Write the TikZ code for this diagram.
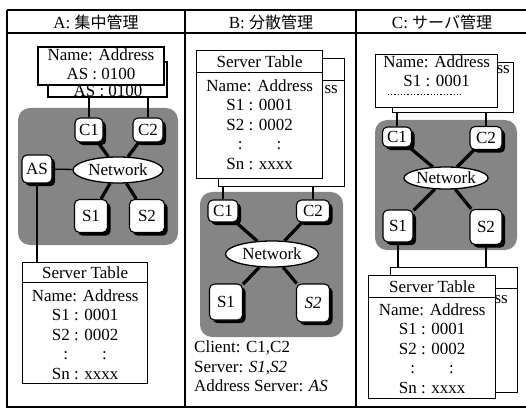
\documentclass[tikz,border=0pt]{standalone}
\usepackage{fontspec}
\setmainfont{Liberation Serif}
\newfontfamily\jfont{Noto Sans CJK JP}
\usetikzlibrary{shapes.geometric,shadows}
\pgfdeclarelayer{bg}
\pgfdeclarelayer{edges}
\pgfsetlayers{bg,edges,main}
\tikzset{
  frameline/.style={line width=1.6},
  card/.style={draw, fill=white, line width=1.3, inner sep=0pt},
  host/.style={draw, fill=white, rounded corners=5, line width=1.1, inner sep=0pt,
    drop shadow={shadow xshift=3.2pt, shadow yshift=-3.2pt, fill=black, opacity=1}},
  netw/.style={ellipse, draw, fill=white, line width=1.3, inner sep=0pt},
  cloud/.style={fill=black!48, rounded corners=12},
  link/.style={line width=3.2},
  wire/.style={line width=1.3},
  txt/.style={inner sep=0pt, align=center},
}
\begin{document}
\begin{tikzpicture}[x=1pt,y=-1pt,every node/.style={font=\fontsize{17}{19}\selectfont}]
\useasboundingbox (0,0) rectangle (526,411);
% frame
\draw[frameline] (7,10) -- (526,10);
\draw[frameline] (7,33) -- (526,33);
\draw[frameline] (526,407) -- (7,407) -- (7,10);
\draw[frameline] (185,10) -- (185,407);
\draw[frameline] (356,10) -- (356,407);
\node (titA) at (96,22) {A: {\jfont\fontsize{16}{16}\selectfont 集中管理}};
\node (titB) at (271,22) {B: {\jfont\fontsize{16}{16}\selectfont 分散管理}};
\node (titC) at (442,22) {C: {\jfont\fontsize{16}{16}\selectfont サーバ管理}};

% ---------------- A ----------------
\begin{pgfonlayer}{bg}
\fill[cloud] (18,108) rectangle (178,245);
\end{pgfonlayer}
\node[card, minimum width=119, minimum height=35] (cAb) at (107.5,79.5) {};
\begin{scope}
\clip (40,86) rectangle (170,97);
\node[txt] (cAbt) at (108,90.5) {AS : 0100};
\end{scope}
\node[card, minimum width=126, minimum height=38] (cAf) at (101,66) {};
\node[txt] (cAft) at (101,64) {Name: Address\\AS : 0100};

\node[host, minimum width=28, minimum height=24] (C1a) at (89,130) {C1};
\node[host, minimum width=30, minimum height=24] (C2a) at (148,130) {C2};
\node[host, minimum width=30, minimum height=28] (ASa) at (37,169) {AS};
\node[netw, minimum width=90, minimum height=26] (Neta) at (118,170) {Network};
\node[host, minimum width=33, minimum height=33] (S1a) at (91,216) {S1};
\node[host, minimum width=35, minimum height=33] (S2a) at (147,216) {S2};

\node[card, minimum width=125, minimum height=121, anchor=north west] (tA) at (22,262) {};
\node[card, minimum width=125, minimum height=20, anchor=north] (tAh) at (tA.north) {Server Table};
\node[txt, anchor=north, font=\fontsize{17}{19.5}\selectfont] (tAb) at ([yshift=-6pt]tAh.south)
  {Name: Address\\S1 : 0001\\S2 : 0002\\:\hspace{34pt}:\\Sn : xxxx};

\begin{pgfonlayer}{edges}
\draw[link] (Neta) -- (C1a);
\draw[link] (Neta) -- (C2a);
\draw[link] (Neta) -- (S1a);
\draw[link] (Neta) -- (S2a);
\draw[wire] (ASa) -- (Neta);
\draw[wire] (ASa.south) -- (ASa.south |- tA.north);
\draw[wire] (C1a.north) -- (C1a.north |- cAb.south);
\draw[wire] (C2a.north) -- (C2a.north |- cAb.south);
\end{pgfonlayer}

% ---------------- B ----------------
\begin{pgfonlayer}{bg}
\fill[cloud] (200,192) rectangle (343,337);
\end{pgfonlayer}
\node[card, minimum width=126, minimum height=128, anchor=north west] (tBb) at (218,58) {};
\node[card, minimum width=126, minimum height=22, anchor=north] (tBbh) at (tBb.north) {};
\node[txt, anchor=east] (tBbt) at (338,90) {ss};
\node[card, minimum width=126, minimum height=128, anchor=north west] (tB) at (196,50) {};
\node[card, minimum width=126, minimum height=22, anchor=north] (tBh) at (tB.north) {Server Table};
\node[txt, anchor=north, font=\fontsize{17}{19.5}\selectfont] (tBbody) at ([yshift=-6pt]tBh.south)
  {Name: Address\\S1 : 0001\\S2 : 0002\\:\hspace{34pt}:\\Sn : xxxx};

\node[host, minimum width=30, minimum height=22] (C1b) at (223,211) {C1};
\node[host, minimum width=33, minimum height=22] (C2b) at (313,211) {C2};
\node[netw, minimum width=93, minimum height=26] (Netb) at (272,254) {Network};
\node[host, minimum width=33, minimum height=36] (S1b) at (226,302) {S1};
\node[host, minimum width=33, minimum height=38] (S2b) at (313,303) {\textit{S2}};

\begin{pgfonlayer}{edges}
\draw[link] (Netb) -- (C1b);
\draw[link] (Netb) -- (C2b);
\draw[link] (Netb) -- (S1b);
\draw[link] (Netb) -- (S2b);
\draw[wire] (C1b.north) -- (C1b.north |- tBb.south);
\draw[wire] (C2b.north) -- (C2b.north |- tBb.south);
\end{pgfonlayer}

\node[anchor=north west, align=left, inner sep=0pt, font=\fontsize{17}{19.5}\selectfont] (legend) at (194,341)
  {Client: C1,C2\\Server: \textit{S1},\textit{S2}\\Address Server: \textit{AS}};

% ---------------- C ----------------
\begin{pgfonlayer}{bg}
\fill[cloud] (375,120) rectangle (517,250);
\end{pgfonlayer}
\node[card, minimum width=121, minimum height=50, anchor=north west] (cCb) at (392,62) {};
\node[txt, anchor=east] (cCbt) at (510,70) {ss};
\node[card, minimum width=122, minimum height=53, anchor=north west] (cCf) at (375,54) {};
\node[txt, anchor=north] (cCft) at ([yshift=-2pt]cCf.north) {Name: Address\\S1 : 0001};
\draw[dotted, line width=1.3] ([xshift=-49pt,yshift=14pt]cCf.south) -- ([xshift=24pt,yshift=14pt]cCf.south);

\node[host, minimum width=29, minimum height=20] (C1c) at (397,137) {C1};
\node[host, minimum width=32, minimum height=23] (C2c) at (486,138) {C2};
\node[netw, minimum width=64, minimum height=22] (Netc) at (446,178) {Network};
\node[host, minimum width=30, minimum height=32] (S1c) at (398,226) {S1};
\node[host, minimum width=32, minimum height=35] (S2c) at (486,227) {S2};

\node[card, minimum width=127, minimum height=125, anchor=north west] (tCb) at (390,267) {};
\node[card, minimum width=127, minimum height=21, anchor=north] (tCbh) at (tCb.north) {};
\node[txt, anchor=east] (tCbt) at (508,300) {ss};
\node[card, minimum width=127, minimum height=123, anchor=north west] (tC) at (368,275) {};
\node[card, minimum width=127, minimum height=22, anchor=north] (tCh) at (tC.north) {Server Table};
\node[txt, anchor=north, font=\fontsize{17}{19.5}\selectfont] (tCbody) at ([yshift=-5pt]tCh.south)
  {Name: Address\\S1 : 0001\\S2 : 0002\\:\hspace{34pt}:\\Sn : xxxx};

\begin{pgfonlayer}{edges}
\draw[link] (Netc) -- (C1c);
\draw[link] (Netc) -- (C2c);
\draw[link] (Netc) -- (S1c);
\draw[link] (Netc) -- (S2c);
\draw[wire] (C1c.north) -- (C1c.north |- cCb.south);
\draw[wire] (C2c.north) -- (C2c.north |- cCb.south);
\draw[wire] (S1c.south) -- (S1c.south |- tCb.north);
\draw[wire] (S2c.south) -- (S2c.south |- tCb.north);
\end{pgfonlayer}
\end{tikzpicture}
\end{document}
